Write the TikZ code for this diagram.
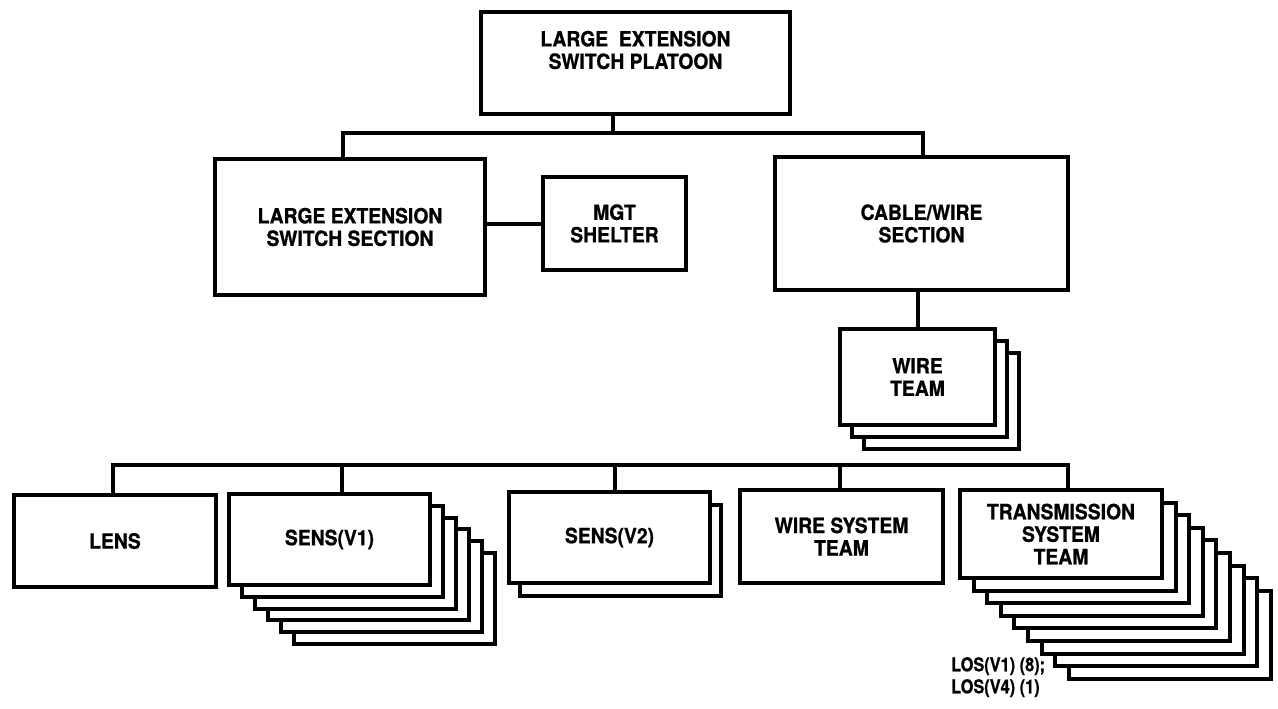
\documentclass[tikz,border=0pt]{standalone}
\usepackage{fontspec}
\setmainfont{TeX Gyre Heros}
\newfontfamily\hbnarrow{TeX Gyre Heros}[FakeStretch=0.92, FakeBold=0.8]
\newfontfamily\hbnote{TeX Gyre Heros}[FakeStretch=0.86, FakeBold=0.8]
\begin{document}
\begin{tikzpicture}[x=1pt,y=-1pt,
  box/.style={draw, line width=4pt, fill=white, align=center, inner sep=0pt,
    font=\hbnarrow\bfseries\fontsize{21}{22.5}\selectfont},
  conn/.style={line width=4pt, line join=miter},
  note/.style={align=left, inner sep=0pt, font=\hbnote\bfseries\fontsize{19}{22}\selectfont}]
\fill[white] (0,0) rectangle (1278,709);
\useasboundingbox (0,0) rectangle (1278,709);

% top levels
\node[box, minimum width=309pt, minimum height=102pt] (top) at (635.5,63) {LARGE\ \ EXTENSION\\SWITCH PLATOON\\[-3pt]\strut};
\node[box, minimum width=270pt, minimum height=136pt] (les) at (350,227) {LARGE EXTENSION\\SWITCH SECTION};
\node[box, minimum width=143pt, minimum height=93pt] (mgt) at (614.5,223.5) {MGT\\SHELTER};
\node[box, minimum width=293pt, minimum height=133pt] (cable) at (921.5,223.5) {CABLE/WIRE\\SECTION};

% wire team stack
\foreach \i in {2,1} {
  \node[box, minimum width=155pt, minimum height=96pt] (wtb\i) at ({917.5+12*\i},{377+12*\i}) {};
}
\node[box, minimum width=155pt, minimum height=96pt] (wt) at (917.5,377) {WIRE\\TEAM};

% bottom row
\node[box, minimum width=202pt, minimum height=92pt] (lens) at (115,541) {LENS};

\foreach \i in {5,4,3,2,1} {
  \node[box, minimum width=201pt, minimum height=91pt] (svab\i) at ({329.5+13*\i},{539.5+11.8*\i}) {};
}
\node[box, minimum width=201pt, minimum height=91pt] (sva) at (329.5,539.5) {SENS(V1)};

\node[box, minimum width=201pt, minimum height=91pt] (svbb1) at (620.5,550.5) {};
\node[box, minimum width=201pt, minimum height=91pt] (svb) at (609.5,537.5) {SENS(V2)};

\node[box, minimum width=203pt, minimum height=93pt] (wst) at (841.5,536.5) {WIRE SYSTEM\\TEAM};

\foreach \i in {8,7,6,5,4,3,2,1} {
  \node[box, minimum width=202pt, minimum height=88pt] (tstb\i) at ({1061+13.6*\i},{534+12.6*\i}) {};
}
\node[box, minimum width=202pt, minimum height=88pt] (tst) at (1061,534) {TRANSMISSION\\SYSTEM\\TEAM};

\node[note, anchor=north west] (los) at (951,657) {LOS(V1) (8);\\LOS(V4) (1)};

% connectors
\coordinate (j1) at (613,133);
\coordinate (b1l) at (343,133);
\coordinate (b1r) at (923,133);
\draw[conn] (top.south -| j1) -- (j1);
\draw[conn] (les.north -| b1l) -- (b1l) -- (b1r) -- (cable.north -| b1r);
\draw[conn] (mgt.west -| les.east) -- (mgt.west);
\draw[conn] (wt.north |- cable.south) -- (wt.north);

\coordinate (b2l) at (113,465);
\coordinate (b2r) at (1068,465);
\coordinate (d1) at (342,465);
\coordinate (d2) at (615,465);
\coordinate (d3) at (840,465);
\draw[conn] (lens.north -| b2l) -- (b2l) -- (b2r) -- (tst.north -| b2r);
\draw[conn] (d1) -- (sva.north -| d1);
\draw[conn] (d2) -- (svb.north -| d2);
\draw[conn] (d3) -- (wst.north -| d3);
\end{tikzpicture}
\end{document}
